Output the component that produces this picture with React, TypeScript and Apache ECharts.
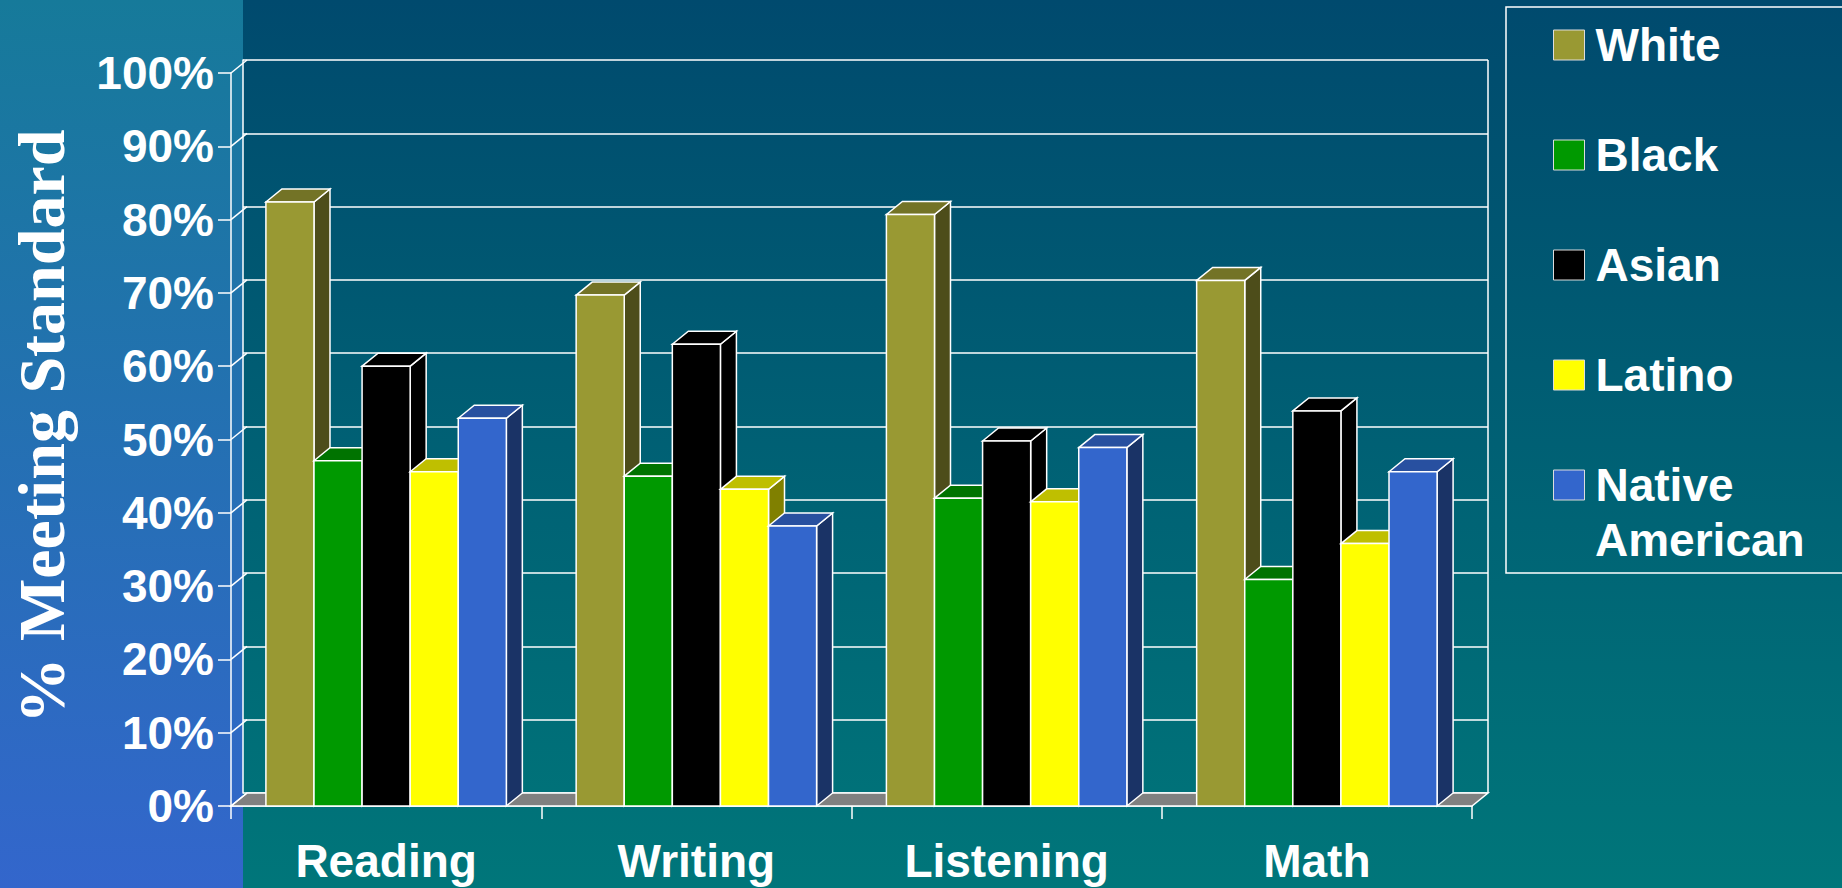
import React, { useEffect, useRef } from "react";
import * as echarts from "echarts";

const categories = ["Reading", "Writing", "Listening", "Math"];
const groups = ["White", "Black", "Asian", "Latino", "Native American"];
const white = [82.4, 69.7, 80.7, 71.7];
const black = [47.1, 45.0, 42.0, 30.9];
const asian = [60.0, 63.0, 49.8, 53.9];
const latino = [45.6, 43.2, 41.5, 35.8];
const nativeAmerican = [52.9, 38.2, 48.9, 45.6];
const seriesValues = [white, black, asian, latino, nativeAmerican];
const yTicks = [0, 10, 20, 30, 40, 50, 60, 70, 80, 90, 100];

const frontColors = ["#999933", "#009900", "#000000", "#ffff00", "#3366cc"];
const topColors = ["#737326", "#007300", "#000000", "#bfbf00", "#2850a0"];
const sideColors = ["#4d4d1a", "#004d00", "#000000", "#808000", "#1a3366"];

const GRID_LEFT = 227;
const GRID_TOP = 73;
const GRID_W = 1245;
const GRID_H = 733;
const DX = 16;
const DY = 13;
const BAR_RATIO = 0.155;
const SANS = "'Liberation Sans', Arial, Helvetica, sans-serif";
const SERIF = "'Liberation Serif', 'Times New Roman', serif";

export default function App() {
  const ref = useRef<HTMLDivElement>(null);
  useEffect(() => {
    if (!ref.current) return;
    const chart = echarts.init(ref.current, undefined, { renderer: "svg" });
    const stroke = { stroke: "#ffffff", lineWidth: 1.5 };

    const barSeries = groups.map((g, j) => ({
      type: "custom",
      name: g,
      xAxisIndex: 0,
      yAxisIndex: 0,
      z: 3,
      itemStyle: { color: frontColors[j] },
      encode: { x: 0, y: 1 },
      data: categories.map((c, i) => [i, seriesValues[j][i]]),
      renderItem: (params: any, api: any) => {
        const ci = api.value(0);
        const v = api.value(1);
        const p = api.coord([ci, v]);
        const cx = p[0];
        const yTop = p[1];
        const y0 = api.coord([ci, 0])[1];
        const bw = api.size([1, 0])[0] * BAR_RATIO;
        const x0 = cx + (j - 2.5) * bw;
        const x1 = x0 + bw;
        return {
          type: "group",
          children: [
            {
              type: "polygon",
              shape: { points: [[x1, yTop], [x1 + DX, yTop - DY], [x1 + DX, y0 - DY], [x1, y0]] },
              style: { fill: sideColors[j], ...stroke },
            },
            {
              type: "polygon",
              shape: { points: [[x0, yTop], [x0 + DX, yTop - DY], [x1 + DX, yTop - DY], [x1, yTop]] },
              style: { fill: topColors[j], ...stroke },
            },
            {
              type: "rect",
              shape: { x: x0, y: yTop, width: bw, height: y0 - yTop },
              style: { fill: frontColors[j], ...stroke },
            },
          ],
        };
      },
    }));

    const frameSeries = {
      type: "custom",
      name: "frame",
      xAxisIndex: 0,
      yAxisIndex: 0,
      z: 1,
      silent: true,
      data: [[0, 0]],
      renderItem: (params: any, api: any) => {
        const cs = params.coordSys;
        const x = cs.x;
        const w = cs.width;
        const y0 = api.coord([0, 0])[1];
        const y100 = api.coord([0, 100])[1];
        const children: any[] = [];
        children.push({
          type: "polygon",
          shape: { points: [[x, y0], [x + w, y0], [x + w + DX, y0 - DY], [x + DX, y0 - DY]] },
          style: { fill: "#808080", ...stroke },
        });
        yTicks.forEach((t) => {
          const yy = api.coord([0, t])[1];
          children.push({
            type: "line",
            shape: { x1: x, y1: yy, x2: x + DX, y2: yy - DY },
            style: { ...stroke },
          });
        });
        children.push({
          type: "line",
          shape: { x1: x + w + DX, y1: y100 - DY, x2: x + w + DX, y2: y0 - DY },
          style: { ...stroke },
        });
        return { type: "group", children };
      },
    };

    chart.setOption({
      animation: false,
      backgroundColor: new echarts.graphic.LinearGradient(0, 0, 0, 1, [
        { offset: 0, color: "#004a6e" },
        { offset: 1, color: "#00767a" },
      ]),
      graphic: [
        {
          type: "rect",
          z: -1,
          silent: true,
          shape: { x: 0, y: 0, width: 243, height: 888 },
          style: {
            fill: new echarts.graphic.LinearGradient(0, 0, 0, 1, [
              { offset: 0, color: "#167a9a" },
              { offset: 1, color: "#3366cc" },
            ]),
          },
        },
        {
          type: "rect",
          silent: true,
          shape: { x: 1506, y: 7, width: 400, height: 566 },
          style: { fill: "none", stroke: "#ffffff", lineWidth: 1.5 },
        },
        {
          type: "text",
          silent: true,
          x: 1595,
          y: 540,
          style: {
            text: "American",
            fill: "#ffffff",
            fontSize: 46,
            fontWeight: "bold",
            fontFamily: SANS,
            verticalAlign: "middle",
            align: "left",
          },
        },
      ],
      legend: {
        orient: "vertical",
        left: 1548,
        top: 12.5,
        itemWidth: 31,
        itemHeight: 30,
        itemGap: 55,
        icon: "rect",
        selectedMode: false,
        itemStyle: { borderColor: "#dddddd", borderWidth: 1 },
        textStyle: {
          color: "#ffffff",
          fontSize: 46,
          fontWeight: "bold",
          fontFamily: SANS,
          lineHeight: 55,
          padding: [0, 0, 0, 6],
        },
        formatter: (name: string) => (name === "Native American" ? "Native" : name),
        data: groups,
      },
      grid: [
        { left: GRID_LEFT, top: GRID_TOP, width: GRID_W, height: GRID_H },
        { left: GRID_LEFT + DX, top: GRID_TOP - DY, width: GRID_W, height: GRID_H },
      ],
      xAxis: [
        {
          type: "category",
          gridIndex: 0,
          data: categories,
          axisLine: { lineStyle: { color: "#ffffff", width: 1.5 } },
          axisTick: { show: true, length: 13, lineStyle: { color: "#ffffff", width: 1.5 } },
          axisLabel: {
            color: "#ffffff",
            fontSize: 46,
            fontWeight: "bold",
            fontFamily: SANS,
            margin: 32,
          },
          splitLine: { show: false },
        },
        { type: "category", gridIndex: 1, data: categories, show: false },
      ],
      yAxis: [
        {
          type: "value",
          gridIndex: 0,
          min: 0,
          max: 100,
          interval: 10,
          name: "% Meeting Standard",
          nameLocation: "middle",
          nameRotate: 90,
          nameGap: 157,
          nameTextStyle: {
            color: "#ffffff",
            fontSize: 66,
            fontWeight: "bold",
            fontFamily: SERIF,
            padding: [0, 0, 0, 26],
          },
          axisLine: { show: true, lineStyle: { color: "#ffffff", width: 1.5 } },
          axisTick: { show: true, length: 13, lineStyle: { color: "#ffffff", width: 1.5 } },
          axisLabel: {
            color: "#ffffff",
            fontSize: 46,
            fontWeight: "bold",
            fontFamily: SANS,
            margin: 17,
            formatter: "{value}%",
          },
          splitLine: { show: false },
        },
        {
          type: "value",
          gridIndex: 1,
          min: 0,
          max: 100,
          interval: 10,
          axisLine: { show: true, lineStyle: { color: "#ffffff", width: 1.5 } },
          axisTick: { show: false },
          axisLabel: { show: false },
          splitLine: { show: true, lineStyle: { color: "#ffffff", width: 1.5 } },
        },
      ],
      series: [frameSeries, ...barSeries],
    });
    return () => chart.dispose();
  }, []);
  return (
    <div
      ref={ref}
      style={{ position: "absolute", left: 0, top: 0, width: 1842, height: 888 }}
    />
  );
}
